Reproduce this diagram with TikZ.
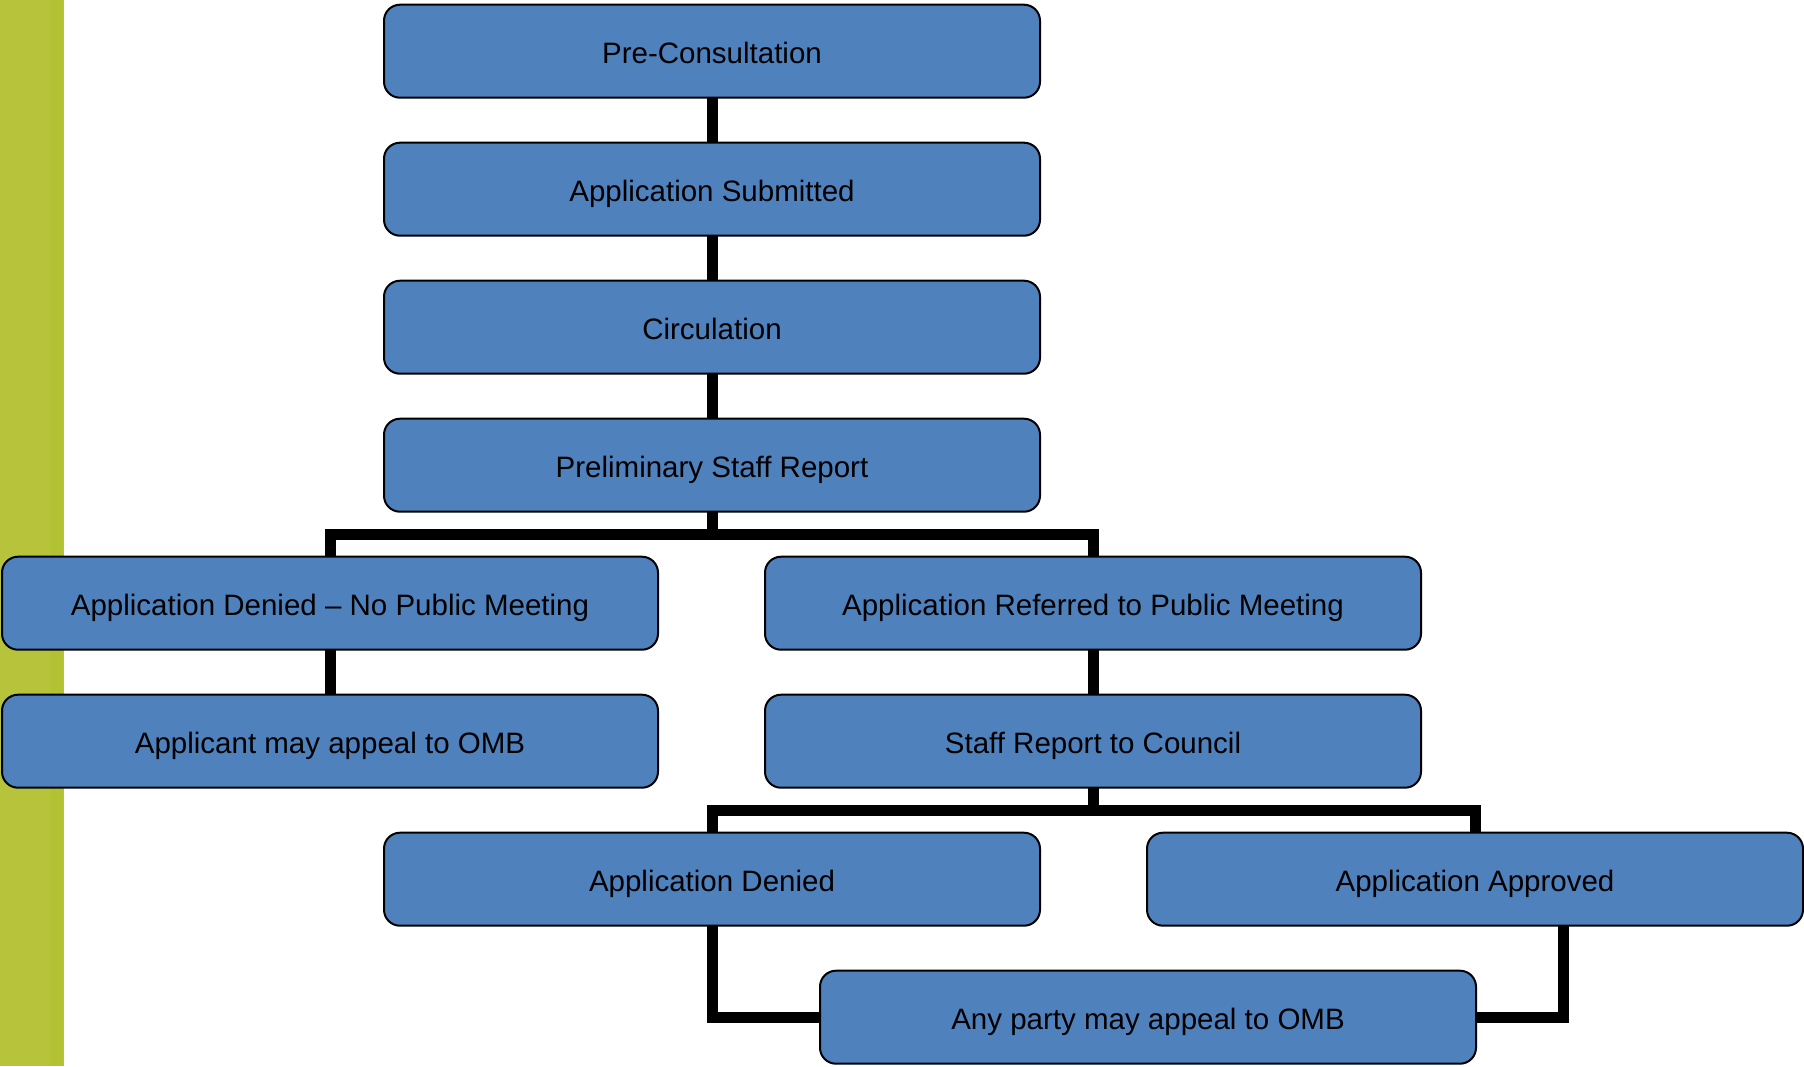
\documentclass[tikz,border=0pt]{standalone}
\usepackage{fontspec}
\setmainfont{Liberation Sans}
\usepackage{tikz}
\usetikzlibrary{positioning, calc}
\definecolor{stageblue}{HTML}{4F81BD}
\definecolor{barolive}{HTML}{B7C33A}
\definecolor{barstripe}{HTML}{B2C232}
\tikzset{
    node distance=22.5pt and 0pt, % Gap between two rows of stages
    stage/.style={ % Sets the properties for each stage box
        draw=black,
        line width=1pt,
        fill=stageblue,
        rounded corners=8pt,
        minimum width=328pt,
        minimum height=46.5pt,
        inner sep=0pt,
        outer sep=0pt,
        text height=12.5pt, % Keeps the text a little below the middle
        text depth=0pt,
        font=\fontsize{14.75}{17}\selectfont
    },
    link/.style={ % Sets the properties for each connector
        draw=black,
        line width=5.5pt
    }
}
\begin{document}
\begin{tikzpicture}
        \useasboundingbox (0,0) rectangle (902pt,-533pt);
        \fill[barolive] (0,0) rectangle (32pt,-533pt);
        \fill[barstripe] (25pt,0) rectangle (31.5pt,-533pt);
        \node[stage] (precon) at (356pt,-25.6pt) {Pre-Consultation};
        \node[stage, below=of precon] (submitted) {Application Submitted};
        \node[stage, below=of submitted] (circulation) {Circulation};
        \node[stage, below=of circulation] (prelim) {Preliminary Staff Report};
        \node[stage, below=of prelim, xshift=-191pt] (nomeeting) {Application Denied – No Public Meeting};
        \node[stage, below=of prelim, xshift=190.5pt] (referred) {Application Referred to Public Meeting};
        \node[stage, below=of nomeeting] (applicantomb) {Applicant may appeal to OMB};
        \node[stage, below=of referred] (council) {Staff Report to Council};
        \node[stage, below=of council, xshift=-190.5pt] (denied) {Application Denied};
        \node[stage, below=of council, xshift=191pt] (approved) {Application Approved};
        \node[stage, below=of denied, xshift=218pt] (anyomb) {Any party may appeal to OMB};
        \coordinate (split1) at ($(prelim.south)+(0,-11.25pt)$);
        \coordinate (split2) at ($(council.south)+(0,-11.25pt)$);
        \draw[link] (precon) -- (submitted);
        \draw[link] (submitted) -- (circulation);
        \draw[link] (circulation) -- (prelim);
        \draw[link] (prelim) -- (split1);
        \draw[link] (nomeeting.north) |- (split1) -| (referred.north);
        \draw[link] (nomeeting) -- (applicantomb);
        \draw[link] (referred) -- (council);
        \draw[link] (council) -- (split2);
        \draw[link] (denied.north) |- (split2) -| (approved.north);
        \draw[link] (denied) |- (anyomb);
        \draw[link] ([xshift=44pt]approved.south) |- (anyomb.east);
    \end{tikzpicture}
\end{document}
